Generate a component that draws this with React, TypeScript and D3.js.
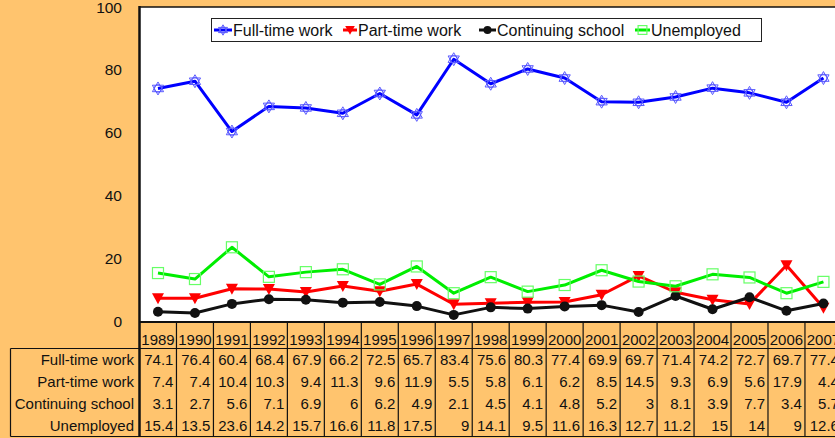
import React from "react";
import * as d3 from "d3";

const years = ["1989","1990","1991","1992","1993","1994","1995","1996","1997","1998","1999","2000","2001","2002","2003","2004","2005","2006","2007"];
const fullTime = [74.1,76.4,60.4,68.4,67.9,66.2,72.5,65.7,83.4,75.6,80.3,77.4,69.9,69.7,71.4,74.2,72.7,69.7,77.4];
const partTime = [7.4,7.4,10.4,10.3,9.4,11.3,9.6,11.9,5.5,5.8,6.1,6.2,8.5,14.5,9.3,6.9,5.6,17.9,4.4];
const continuing = [3.1,2.7,5.6,7.1,6.9,6,6.2,4.9,2.1,4.5,4.1,4.8,5.2,3,8.1,3.9,7.7,3.4,5.7];
const unemployed = [15.4,13.5,23.6,14.2,15.7,16.6,11.8,17.5,9,14.1,9.5,11.6,16.3,12.7,11.2,15,14,9,12.6];
const yTicks = [0,20,40,60,80,100];

const series = [
  { name: "Full-time work", values: fullTime, color: "#0000ff", marker: "sun", mcolor: "#5a5aff" },
  { name: "Part-time work", values: partTime, color: "#ff0000", marker: "tri", mcolor: "#ff0000" },
  { name: "Continuing school", values: continuing, color: "#111111", marker: "circle", mcolor: "#111111" },
  { name: "Unemployed", values: unemployed, color: "#00ee00", marker: "square", mcolor: "#66ff66" },
];

const BG = "#ffc46e";
const FONT = "Liberation Sans, Arial, sans-serif";

function Marker({ type, x, y, color, s = 1 }: { type: string; x: number; y: number; color: string; s?: number }) {
  if (type === "circle") return <circle cx={x} cy={y} r={5 * s} fill={color} />;
  if (type === "tri") return <path d={`M${x - 6 * s},${y - 5 * s}L${x + 6 * s},${y - 5 * s}L${x},${y + 6 * s}Z`} fill={color} />;
  if (type === "square") return <rect x={x - 5.5 * s} y={y - 5.5 * s} width={11 * s} height={11 * s} fill="none" stroke={color} strokeWidth={1.2} />;
  const r1 = 6.5 * s;
  const t1 = [0, 1, 2].map(i => {
    const a = -Math.PI / 2 + (i * 2 * Math.PI) / 3;
    return [x + r1 * Math.cos(a), y + r1 * Math.sin(a)];
  });
  const t2 = [0, 1, 2].map(i => {
    const a = Math.PI / 2 + (i * 2 * Math.PI) / 3;
    return [x + r1 * Math.cos(a), y + r1 * Math.sin(a)];
  });
  const tri = (p: number[][]) => `M${p[0][0]},${p[0][1]}L${p[1][0]},${p[1][1]}L${p[2][0]},${p[2][1]}Z`;
  return (
    <g fill="none" stroke={color} strokeWidth={1}>
      <path d={tri(t1)} />
      <path d={tri(t2)} />
      <circle cx={x} cy={y} r={3.8 * s} />
    </g>
  );
}

export default function App() {
  const W = 835, H = 438;
  const left = 139.5;
  const colW = 36.97;
  const x = d3.scaleBand<string>().domain(years).range([left, left + colW * years.length]);
  const y = d3.scaleLinear().domain([0, 100]).range([321.5, 7]);
  const cx = (i: number) => (x(years[i]) as number) + x.bandwidth() / 2;
  const line = d3.line<number>().x((_, i) => cx(i)).y(d => y(d));

  const headerTop = 322, headerBot = 348.5, tableBot = 436.5;
  const rowH = (tableBot - headerBot) / 4;
  const tableLeft = 10.5;
  const right = left + colW * years.length;

  const legendItems = [
    { s: series[0], mx: 214, mw: 18, tx: 233 },
    { s: series[1], mx: 343, mw: 14, tx: 358 },
    { s: series[2], mx: 479, mw: 17, tx: 497 },
    { s: series[3], mx: 635, mw: 15, tx: 651 },
  ];

  return (
    <svg width={W} height={H} style={{ position: "absolute", left: 0, top: 0 }} fontFamily={FONT}>
      <rect x={0} y={0} width={W} height={H} fill={BG} />
      <rect x={left} y={7} width={right - left} height={321.5 - 7} fill="#ffffff" />
      <line x1={left} x2={right} y1={7} y2={7} stroke="#111" strokeWidth={1.5} />
      <line x1={left} x2={left} y1={6} y2={tableBot} stroke="#111" strokeWidth={2.5} />
      <line x1={left} x2={right} y1={headerTop} y2={headerTop} stroke="#111" strokeWidth={2} />
      {yTicks.map(t => (
        <text key={t} x={122} y={y(t)} dy="0.36em" textAnchor="end" fontSize={15.5} fill="#111">{t}</text>
      ))}

      {series.map(s => (
        <g key={s.name}>
          <path d={line(s.values) as string} fill="none" stroke={s.color} strokeWidth={3} strokeLinejoin="round" />
          {s.values.map((v, i) => (
            <Marker key={i} type={s.marker} x={cx(i)} y={y(v)} color={s.mcolor} />
          ))}
        </g>
      ))}

      <rect x={211.5} y={18.5} width={550} height={23} fill="#fff" stroke="#222" strokeWidth={1} />
      {legendItems.map(({ s, mx, mw, tx }) => (
        <g key={s.name}>
          <line x1={mx} x2={mx + mw} y1={30} y2={30} stroke={s.color} strokeWidth={3} />
          <Marker type={s.marker} x={mx + mw / 2} y={30} color={s.mcolor} s={0.8} />
          <text x={tx} y={30} dy="0.36em" fontSize={16} fill="#111">{s.name}</text>
        </g>
      ))}

      <line x1={tableLeft} x2={right} y1={headerBot} y2={headerBot} stroke="#111" strokeWidth={1.2} />
      <line x1={tableLeft} x2={right} y1={tableBot} y2={tableBot} stroke="#111" strokeWidth={1.2} />
      <line x1={tableLeft} x2={tableLeft} y1={headerBot} y2={tableBot} stroke="#111" strokeWidth={1.2} />
      {years.map((yr, i) => (
        <g key={yr}>
          <line x1={(x(yr) as number) + colW} x2={(x(yr) as number) + colW} y1={headerTop} y2={tableBot} stroke="#111" strokeWidth={1.2} />
          <text x={cx(i)} y={(headerTop + headerBot) / 2 + 4} dy="0.36em" textAnchor="middle" fontSize={15} fill="#111">{yr}</text>
        </g>
      ))}
      {series.map((s, r) => {
        const ry = headerBot + rowH * (r + 0.5);
        return (
          <g key={s.name}>
            <text x={134} y={ry} dy="0.36em" textAnchor="end" fontSize={15} fill="#111">{s.name}</text>
            {s.values.map((v, i) => (
              <text key={i} x={(x(years[i]) as number) + colW - 3} y={ry} dy="0.36em" textAnchor="end" fontSize={15} fill="#111">{String(v)}</text>
            ))}
          </g>
        );
      })}
    </svg>
  );
}
